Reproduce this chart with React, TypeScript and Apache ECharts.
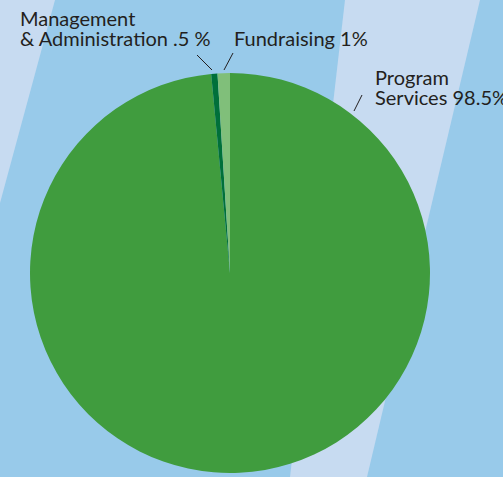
import React, { useEffect, useRef } from "react";
import * as echarts from "echarts";

const categories = ["Program\nServices 98.5%", "Management\n& Administration .5 %", "Fundraising 1%"];
const values = [98.5, 0.5, 1];
const colors = ["#409c3e", "#00703a", "#80bf7a"];

export default function App() {
  const ref = useRef<HTMLDivElement>(null);
  useEffect(() => {
    const chart = echarts.init(ref.current!, null, { renderer: "svg" });
    const labelPos: any[] = [
      { x: 375, y: 67, line: [[354, 111], [362, 95], [362, 95]] },
      { x: 20, y: 8, line: [[212, 70], [197, 55], [197, 55]] },
      { x: 234, y: 28, line: [[224, 70], [233, 53], [233, 53]] },
    ];
    chart.setOption({
      animation: false,
      backgroundColor: "#98caea",
      graphic: [
        {
          type: "polygon",
          z: 0,
          shape: { points: [[0, 0], [55, 0], [0, 203]] },
          style: { fill: "#c7dbf1" },
        },
        {
          type: "polygon",
          z: 0,
          shape: { points: [[345, 0], [480, 0], [367, 477], [290, 477]] },
          style: { fill: "#c7dbf1" },
        },
      ],
      series: [
        {
          type: "pie",
          center: [230, 273],
          radius: 200,
          startAngle: 90,
          clockwise: true,
          avoidLabelOverlap: false,
          silent: true,
          data: categories.map((c, i) => ({ name: c, value: values[i], itemStyle: { color: colors[i] } })),
          itemStyle: { borderWidth: 0 },
          emphasis: { disabled: true },
          label: {
            show: true,
            position: "outside",
            formatter: "{b}",
            color: "#231f20",
            fontFamily: "Lato",
            fontSize: 20,
            lineHeight: 20,
            align: "left",
          },
          labelLine: { show: true, lineStyle: { color: "#231f20", width: 1 } },
          labelLayout: (p: any) => {
            const l = labelPos[p.dataIndex];
            return { x: l.x, y: l.y, align: "left", verticalAlign: "top", labelLinePoints: l.line };
          },
        },
      ],
    });
    return () => chart.dispose();
  }, []);
  return <div ref={ref} style={{ position: "fixed", left: 0, top: 0, width: 503, height: 477 }} />;
}
